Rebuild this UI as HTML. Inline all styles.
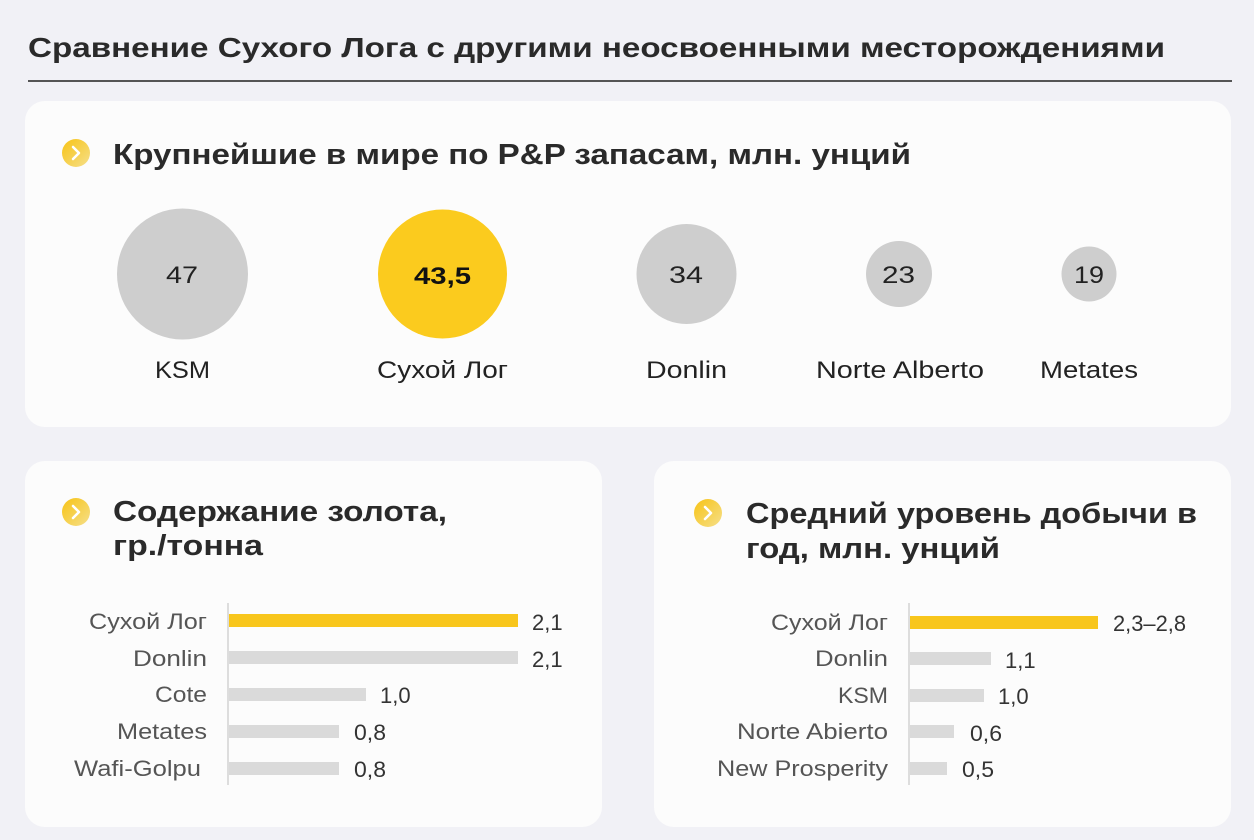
<!DOCTYPE html>
<html><head><meta charset="utf-8"><style>
html,body{margin:0;padding:0;background:#f1f1f6;}
svg{display:block;font-family:"Liberation Sans",sans-serif;}
</style></head><body>
<svg width="1254" height="840" viewBox="0 0 1254 840" xmlns="http://www.w3.org/2000/svg">
<defs><linearGradient id="g" x1="0" y1="0" x2="1" y2="1"><stop offset="0" stop-color="#f7c315"/><stop offset="1" stop-color="#f6df8a"/></linearGradient></defs>
<rect width="1254" height="840" fill="#f1f1f6"/>
<text x="28" y="57" font-size="28" font-weight="bold" fill="#2a2a2a" textLength="1137" lengthAdjust="spacingAndGlyphs">Сравнение Сухого Лога с другими неосвоенными месторождениями</text>
<rect x="28" y="80" width="1204" height="2" fill="#555"/>
<rect x="25" y="101" width="1206" height="326" rx="20" fill="#fcfcfc"/>
<rect x="25" y="461" width="577" height="366" rx="20" fill="#fcfcfc"/>
<rect x="654" y="461" width="577" height="366" rx="20" fill="#fcfcfc"/>
<g fill="none" stroke="#fff" stroke-width="2.5" stroke-linecap="round" stroke-linejoin="round">
<circle cx="76" cy="153" r="14" fill="url(#g)" stroke="none"/><path d="M73 147 L79 153 L73 159"/>
<circle cx="76" cy="512" r="14" fill="url(#g)" stroke="none"/><path d="M73 506 L79 512 L73 518"/>
<circle cx="708" cy="513" r="14" fill="url(#g)" stroke="none"/><path d="M705 507 L711 513 L705 519"/>
</g>
<g font-size="29" font-weight="bold" fill="#2a2a2a">
<text x="113" y="164" textLength="798" lengthAdjust="spacingAndGlyphs">Крупнейшие в мире по P&amp;P запасам, млн. унций</text>
<text x="113" y="521" textLength="334" lengthAdjust="spacingAndGlyphs">Содержание золота,</text>
<text x="113" y="555" textLength="150" lengthAdjust="spacingAndGlyphs">гр./тонна</text>
<text x="746" y="523" textLength="451" lengthAdjust="spacingAndGlyphs">Средний уровень добычи в</text>
<text x="746" y="558" textLength="254" lengthAdjust="spacingAndGlyphs">год, млн. унций</text>
</g>
<circle cx="182.5" cy="274" r="65.5" fill="#cecece"/>
<circle cx="442.5" cy="274" r="64.5" fill="#fbcb1e"/>
<circle cx="686.5" cy="274" r="50" fill="#cecece"/>
<circle cx="899" cy="274" r="33" fill="#cecece"/>
<circle cx="1089" cy="274" r="27.5" fill="#cecece"/>
<g font-size="24" fill="#222">
<text x="166" y="283" textLength="32" lengthAdjust="spacingAndGlyphs">47</text>
<text x="414" y="284" font-weight="bold" fill="#111" textLength="57" lengthAdjust="spacingAndGlyphs">43,5</text>
<text x="669" y="283" textLength="34" lengthAdjust="spacingAndGlyphs">34</text>
<text x="882" y="283" textLength="33" lengthAdjust="spacingAndGlyphs">23</text>
<text x="1074" y="283" textLength="30" lengthAdjust="spacingAndGlyphs">19</text>
<text x="155" y="378" textLength="55" lengthAdjust="spacingAndGlyphs">KSM</text>
<text x="377" y="378" textLength="131" lengthAdjust="spacingAndGlyphs">Сухой Лог</text>
<text x="646" y="378" textLength="81" lengthAdjust="spacingAndGlyphs">Donlin</text>
<text x="816" y="378" textLength="168" lengthAdjust="spacingAndGlyphs">Norte Alberto</text>
<text x="1040" y="378" textLength="98" lengthAdjust="spacingAndGlyphs">Metates</text>
</g>
<rect x="227" y="603" width="2" height="182" fill="#ddd"/>
<rect x="229" y="614" width="289" height="13" fill="#f8c61c"/>
<rect x="229" y="651" width="289" height="13" fill="#dadada"/>
<rect x="229" y="688" width="137" height="13" fill="#dadada"/>
<rect x="229" y="725" width="110" height="13" fill="#dadada"/>
<rect x="229" y="762" width="110" height="13" fill="#dadada"/>
<g font-size="22" fill="#555">
<text x="89" y="629" textLength="118" lengthAdjust="spacingAndGlyphs">Сухой Лог</text>
<text x="133" y="666" textLength="74" lengthAdjust="spacingAndGlyphs">Donlin</text>
<text x="155" y="702" textLength="52" lengthAdjust="spacingAndGlyphs">Cote</text>
<text x="117" y="739" textLength="90" lengthAdjust="spacingAndGlyphs">Metates</text>
<text x="74" y="776" textLength="127" lengthAdjust="spacingAndGlyphs">Wafi-Golpu</text>
</g>
<g font-size="22" fill="#333">
<text x="532" y="630">2,1</text>
<text x="532" y="667">2,1</text>
<text x="380" y="703">1,0</text>
<text x="354" y="740" textLength="32" lengthAdjust="spacingAndGlyphs">0,8</text>
<text x="354" y="777" textLength="32" lengthAdjust="spacingAndGlyphs">0,8</text>
</g>
<rect x="908" y="603" width="2" height="182" fill="#ddd"/>
<rect x="910" y="616" width="188" height="13" fill="#f8c61c"/>
<rect x="910" y="652" width="81" height="13" fill="#dadada"/>
<rect x="910" y="689" width="74" height="13" fill="#dadada"/>
<rect x="910" y="725" width="44" height="13" fill="#dadada"/>
<rect x="910" y="762" width="37" height="13" fill="#dadada"/>
<g font-size="22" fill="#555">
<text x="771" y="630" textLength="117" lengthAdjust="spacingAndGlyphs">Сухой Лог</text>
<text x="815" y="666" textLength="73" lengthAdjust="spacingAndGlyphs">Donlin</text>
<text x="838" y="703" textLength="50" lengthAdjust="spacingAndGlyphs">KSM</text>
<text x="737" y="739" textLength="151" lengthAdjust="spacingAndGlyphs">Norte Abierto</text>
<text x="717" y="776" textLength="171" lengthAdjust="spacingAndGlyphs">New Prosperity</text>
</g>
<g font-size="22" fill="#333">
<text x="1113" y="631" textLength="73" lengthAdjust="spacingAndGlyphs">2,3–2,8</text>
<text x="1005" y="668">1,1</text>
<text x="998" y="704">1,0</text>
<text x="970" y="741" textLength="32" lengthAdjust="spacingAndGlyphs">0,6</text>
<text x="962" y="777" textLength="32" lengthAdjust="spacingAndGlyphs">0,5</text>
</g>
</svg>
</body></html>
